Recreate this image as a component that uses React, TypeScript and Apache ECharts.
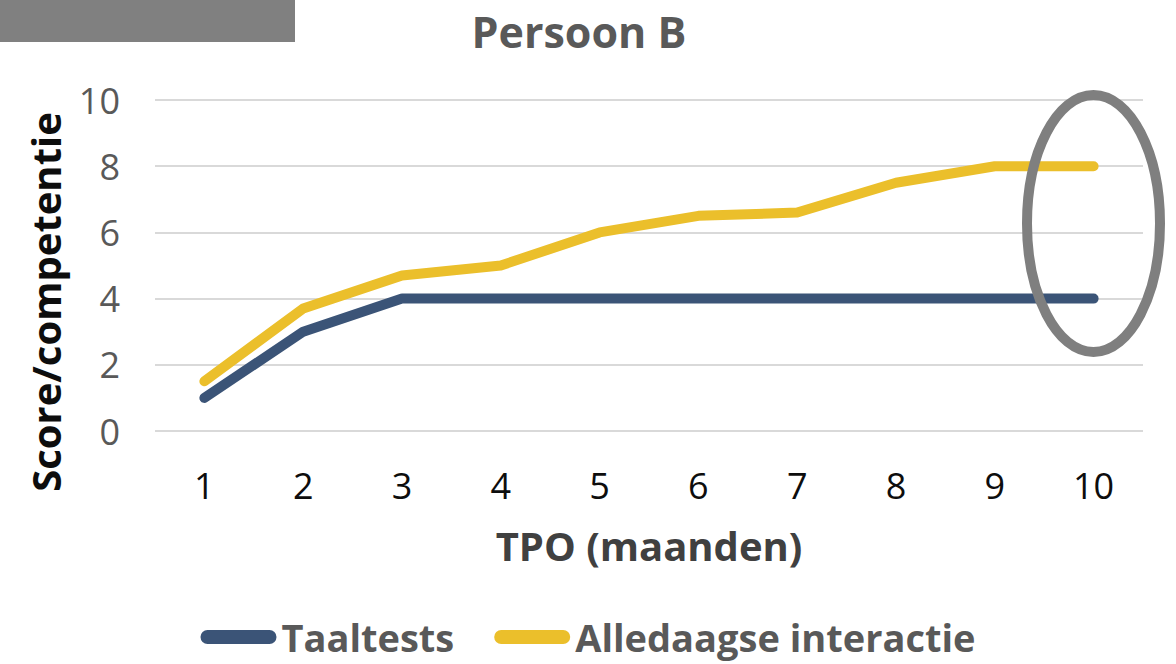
import React, { useEffect, useRef } from "react";
import * as echarts from "echarts";

const categories = ["1", "2", "3", "4", "5", "6", "7", "8", "9", "10"];
const taaltests = [1, 3, 4, 4, 4, 4, 4, 4, 4, 4];
const alledaags = [1.5, 3.7, 4.7, 5.0, 6.0, 6.5, 6.6, 7.5, 8.0, 8.0];
const seriesNames = ["Taaltests", "Alledaagse interactie"];
const yTicks = { min: 0, max: 10, interval: 2 };

const FONT = "'Open Sans', 'DejaVu Sans', sans-serif";
const stadium = "path://M7,0 H69 A7,7 0 0 1 69,14 H7 A7,7 0 0 1 7,0 Z";

export default function App() {
  const ref = useRef<HTMLDivElement>(null);
  useEffect(() => {
    if (!ref.current) return;
    const chart = echarts.init(ref.current, null, { renderer: "svg" });
    chart.setOption({
      animation: false,
      backgroundColor: "#ffffff",
      grid: { left: 155, right: 33, top: 100, bottom: 233 },
      legend: {
        bottom: 3,
        left: "center",
        itemWidth: 76,
        itemHeight: 14,
        itemGap: 40,
        textStyle: { fontFamily: FONT, fontSize: 38, fontWeight: "bold", color: "#595959" },
        data: [
          { name: seriesNames[0], icon: stadium, itemStyle: { color: "#3B5477" } },
          { name: seriesNames[1], icon: stadium, itemStyle: { color: "#EBBF2B" } },
        ],
      },
      xAxis: {
        type: "category",
        data: categories,
        boundaryGap: true,
        axisLine: { show: false },
        axisTick: { show: false },
        axisLabel: { fontFamily: FONT, fontSize: 36, color: "#0d0d0d", margin: 36 },
        name: "TPO (maanden)",
        nameLocation: "middle",
        nameGap: 94,
        nameTextStyle: { fontFamily: FONT, fontSize: 40, fontWeight: "bold", color: "#404040" },
      },
      yAxis: {
        type: "value",
        min: yTicks.min,
        max: yTicks.max,
        interval: yTicks.interval,
        axisLine: { show: false },
        axisTick: { show: false },
        axisLabel: { fontFamily: FONT, fontSize: 36, color: "#595959", margin: 35 },
        splitLine: { lineStyle: { color: "#d9d9d9", width: 2 } },
      },
      series: [
        {
          name: seriesNames[0],
          type: "line",
          data: taaltests,
          symbol: "none",
          lineStyle: { color: "#3B5477", width: 10, cap: "round", join: "round" },
          itemStyle: { color: "#3B5477" },
        },
        {
          name: seriesNames[1],
          type: "line",
          data: alledaags,
          symbol: "none",
          lineStyle: { color: "#EBBF2B", width: 10, cap: "round", join: "round" },
          itemStyle: { color: "#EBBF2B" },
        },
      ],
      graphic: [
        { type: "rect", shape: { x: 0, y: 0, width: 295, height: 42 }, style: { fill: "#808080" } },
        {
          type: "text",
          x: 579,
          y: 31,
          style: {
            text: "Persoon B",
            fontFamily: FONT,
            fontSize: 43,
            lineHeight: 46,
            fontWeight: "bold",
            fill: "#595959",
            textAlign: "center",
            textVerticalAlign: "middle",
          },
        },
        {
          type: "text",
          x: 45,
          y: 302,
          rotation: Math.PI / 2,
          style: {
            text: "Score/competentie",
            fontFamily: FONT,
            fontSize: 40,
            fontWeight: "bold",
            fill: "#0d0d0d",
            textAlign: "center",
            textVerticalAlign: "middle",
          },
        },
        {
          type: "ellipse",
          shape: { cx: 1093.5, cy: 223.5, rx: 66.5, ry: 128.5 },
          style: { fill: "none", stroke: "#7f7f7f", lineWidth: 10 },
          z: 100,
        },
      ],
    });
    return () => chart.dispose();
  }, []);
  return (
    <div
      ref={ref}
      style={{ position: "fixed", left: 0, top: 0, width: 1176, height: 664 }}
    />
  );
}
